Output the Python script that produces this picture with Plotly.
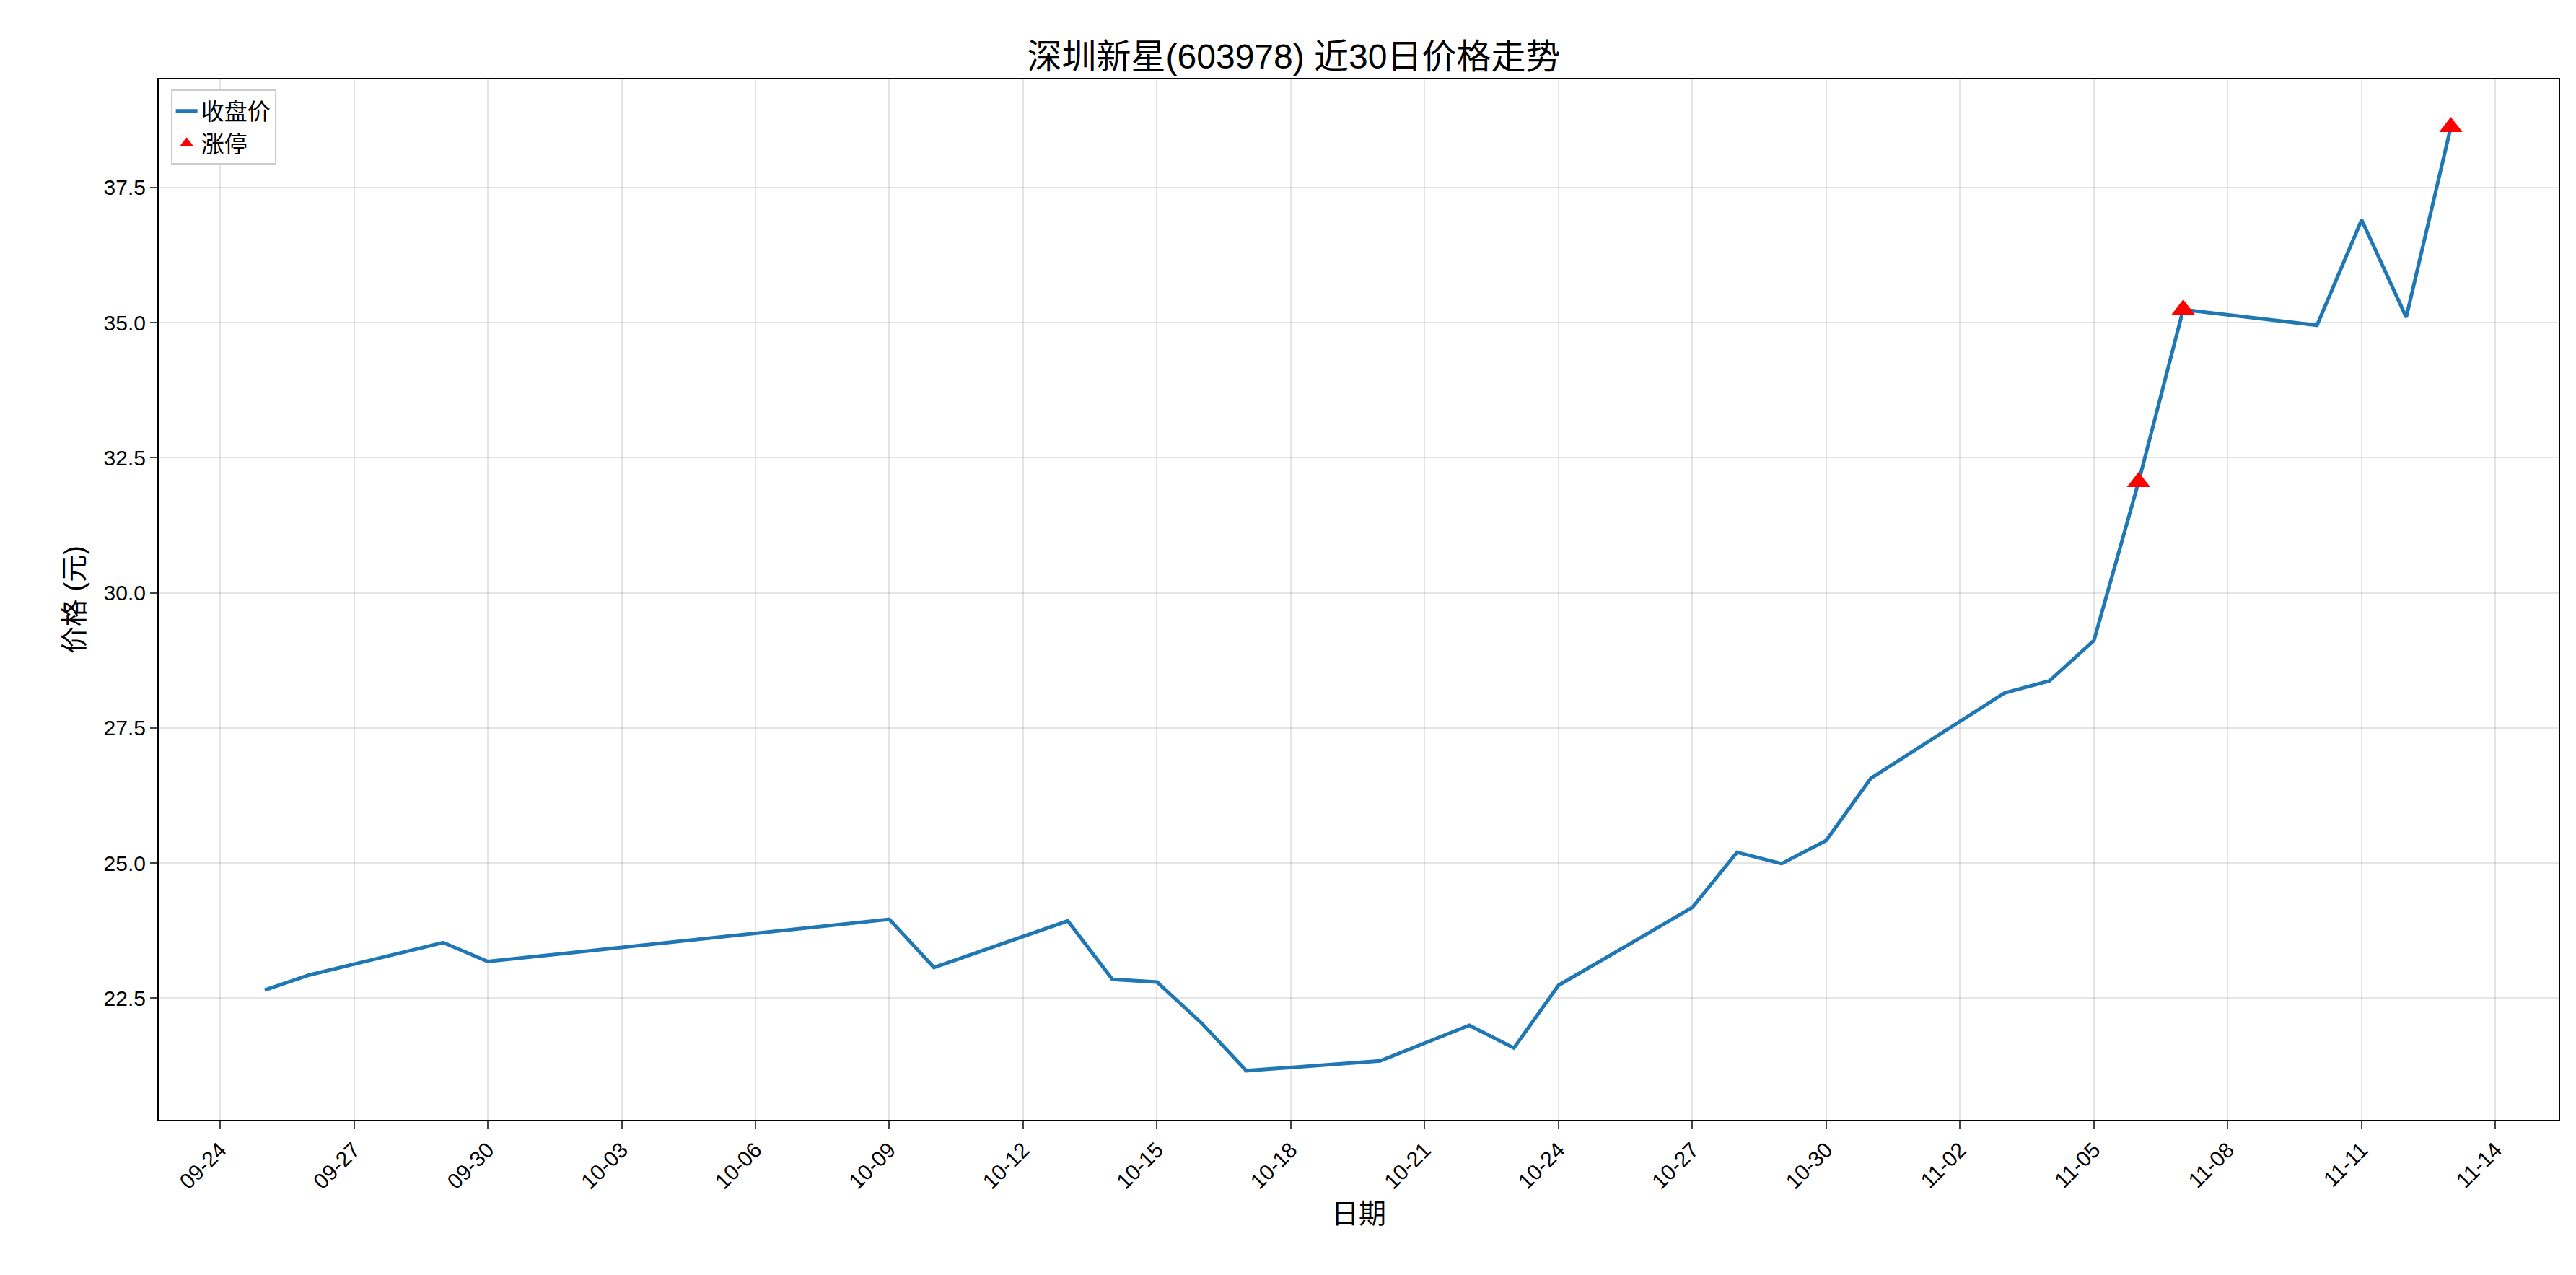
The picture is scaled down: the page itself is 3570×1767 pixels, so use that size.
import plotly.graph_objects as go

dates = ["2025-09-25","2025-09-26","2025-09-29","2025-09-30","2025-10-09","2025-10-10",
         "2025-10-13","2025-10-14","2025-10-15","2025-10-16","2025-10-17","2025-10-20",
         "2025-10-22","2025-10-23","2025-10-24","2025-10-27","2025-10-28","2025-10-29",
         "2025-10-30","2025-10-31","2025-11-03","2025-11-04","2025-11-05","2025-11-06",
         "2025-11-07","2025-11-10","2025-11-11","2025-11-12","2025-11-13"]
close = [22.65,22.93,23.53,23.18,23.96,23.07,23.93,22.85,22.8,22.04,21.16,21.34,
         22.0,21.58,22.74,24.18,25.2,24.99,25.42,26.57,28.15,28.37,29.12,32.05,
         35.24,34.95,36.9,35.1,38.62]
limit_dates = ["2025-11-06","2025-11-07","2025-11-13"]
limit_close = [32.05,35.24,38.62]

F = "Liberation Sans, Noto Sans CJK SC, sans-serif"
fig = go.Figure()
fig.add_trace(go.Scatter(x=dates, y=close, mode="lines", name="收盘价",
                         line=dict(color="#1f77b4", width=5)))
fig.add_trace(go.Scatter(x=limit_dates, y=limit_close, mode="markers", name="涨停",
                         marker=dict(symbol="triangle-up", color="red", size=28)))
ax = dict(showline=True, linecolor="black", linewidth=2, mirror=True,
          gridcolor="rgba(0,0,0,0.1)", gridwidth=2, ticks="outside", ticklen=10,
          tickwidth=2, tickfont=dict(size=30, color="black"), zeroline=False)
fig.update_layout(
    width=3570, height=1767, plot_bgcolor="white", paper_bgcolor="white",
    font=dict(family=F, color="black"),
    title=dict(text="深圳新星(603978) 近30日价格走势", x=0.5, xanchor="center",
               y=0.97, font=dict(size=48)),
    margin=dict(l=212, r=32, t=102, b=223),
    legend=dict(x=0.005, y=0.99, xanchor="left", yanchor="top", bordercolor="#ccc",
                borderwidth=2, font=dict(size=32), bgcolor="white", tracegroupgap=8),
    xaxis=dict(ax, type="date", tick0="2025-09-24", dtick=3*86400000, tickformat="%m-%d",
               tickangle=-45, range=["2025-09-22 15:00","2025-11-15 10:00"],
               title=dict(text="日期", font=dict(size=38))),
    yaxis=dict(ax, range=[20.25, 39.5], tickvals=[22.5,25,27.5,30,32.5,35,37.5],
               ticktext=["22.5","25.0","27.5","30.0","32.5","35.0","37.5"],
               title=dict(text="价格 (元)", font=dict(size=38))),
)
fig.write_html("out.html")
